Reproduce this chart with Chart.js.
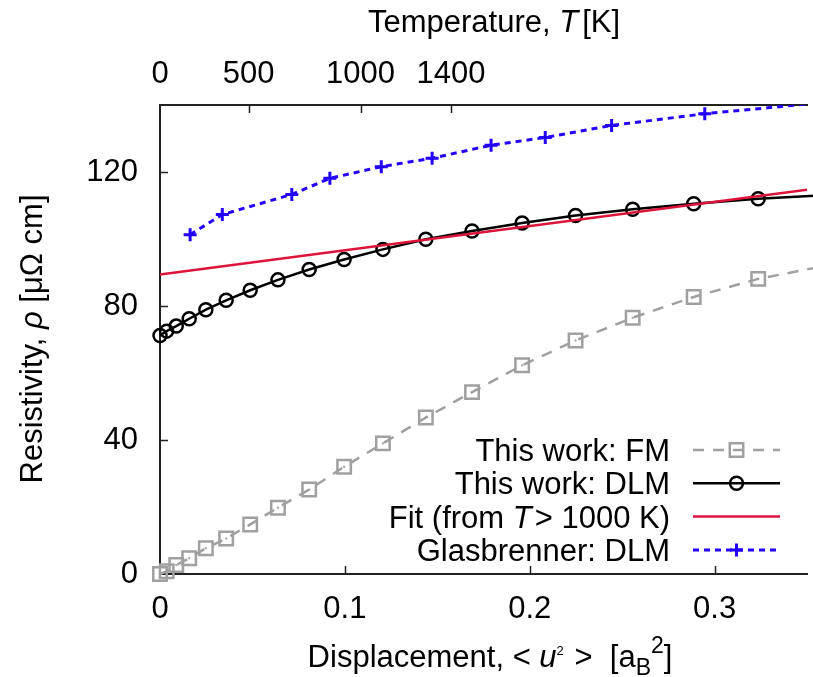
<!DOCTYPE html>
<html>
<head>
<meta charset="utf-8">
<script src="https://cdn.jsdelivr.net/npm/chart.js@4/dist/chart.umd.min.js"></script>
<style>
  html, body { margin: 0; padding: 0; background: #fff; overflow: hidden; }
  #marco { width: 813px; height: 677px; overflow: hidden; }
</style>
</head>
<body>
<div id="marco"><canvas id="grafico" width="819" height="677"></canvas></div>
<script>
// Datos (el último punto de cada serie queda fuera del eje)
const desplazamiento = [0, 0.0036, 0.0088, 0.0158, 0.0248, 0.0358, 0.0488, 0.0638, 0.0807, 0.0996, 0.1206, 0.1438, 0.1688, 0.1959, 0.2248, 0.2557, 0.2887, 0.3236, 0.361];
const rhoFM = [0, 0.8, 2.7, 4.7, 7.7, 10.6, 14.8, 19.8, 25.2, 32.0, 39.0, 46.7, 54.3, 62.3, 69.7, 76.5, 82.7, 88.1, 92.1];
const rhoDLM = [71.2, 72.5, 74.0, 76.2, 78.9, 81.7, 84.7, 87.8, 90.9, 93.9, 96.9, 99.9, 102.4, 104.8, 107.0, 108.9, 110.5, 112.0, 113.1];

const desplazamientoGlas = [0.0163, 0.0337, 0.0713, 0.0919, 0.1197, 0.1472, 0.1791, 0.2084, 0.2443, 0.2947, 0.36];
const rhoGlas = [101.3, 107.3, 113.3, 118.1, 121.6, 124.1, 128.0, 130.3, 133.9, 137.4, 140.8];

const desplazamientoAjuste = [0, 0.35];
const rhoAjuste = [89.4, 114.7];

// Ejes
const ticksX = [0, 0.1, 0.2, 0.3];
const ticksY = [0, 40, 80, 120];
const temperaturas = [0, 500, 1000, 1400];
const posTemperatura = [0, 0.048, 0.1085, 0.1574];

const FUENTE = '"Liberation Sans", Arial, sans-serif';
const TAM = 31;
const COLOR_MARCO = '#222';

function puntos(xs, ys) {
  return xs.map((x, i) => ({ x: x, y: ys[i] }));
}

// Texto con cursiva, superíndices y subíndices
function textoRico(ctx, partes, x, y, alinear) {
  let ancho = 0;
  const medidas = partes.map(p => {
    ctx.font = (p.i ? 'italic ' : '') + (p.tam || TAM) + 'px ' + FUENTE;
    const w = ctx.measureText(p.t).width + (p.extra || 0);
    ancho += w;
    return w;
  });
  let cx = x;
  if (alinear === 'center') cx = x - ancho / 2;
  if (alinear === 'right') cx = x - ancho;
  ctx.textAlign = 'left';
  ctx.textBaseline = 'alphabetic';
  ctx.fillStyle = '#000';
  partes.forEach((p, k) => {
    ctx.font = (p.i ? 'italic ' : '') + (p.tam || TAM) + 'px ' + FUENTE;
    ctx.fillText(p.t, cx, y + (p.dy || 0));
    cx += medidas[k];
  });
}

const leyendaTextos = [
  [{ t: 'This work: FM' }],
  [{ t: 'This work: DLM' }],
  [{ t: 'Fit (from ' }, { t: 'T', i: true, extra: 3 }, { t: '> 1000 K)' }],
  [{ t: 'Glasbrenner: DLM' }]
];

// Punto central de los cuadrados (como en gnuplot)
const puntoCentral = {
  id: 'puntoCentral',
  afterDatasetsDraw(chart) {
    const ctx = chart.ctx;
    const meta = chart.getDatasetMeta(0);
    ctx.save();
    ctx.fillStyle = '#a0a0a0';
    meta.data.forEach(p => {
      if (p.x > chart.chartArea.right) return;
      ctx.fillRect(p.x - 1, p.y - 1, 2, 2);
    });
    ctx.restore();
  }
};

const extras = {
  id: 'extras',
  afterDraw(chart) {
    const ctx = chart.ctx;
    const area = chart.chartArea;
    const sx = chart.scales.x;
    const sy = chart.scales.y;

    // marcas hacia dentro
    ctx.save();
    ctx.strokeStyle = COLOR_MARCO;
    ctx.lineWidth = 1.5;
    ctx.beginPath();
    ticksY.forEach(v => {
      if (v === 0) return;
      const py = Math.round(sy.getPixelForValue(v)) + 0.5;
      ctx.moveTo(area.left, py); ctx.lineTo(area.left + 8, py);
    });
    ticksX.forEach(v => {
      if (v === 0) return;
      const px = Math.round(sx.getPixelForValue(v)) + 0.5;
      ctx.moveTo(px, area.bottom); ctx.lineTo(px, area.bottom - 8);
    });
    posTemperatura.forEach(v => {
      if (v === 0) return;
      const px = Math.round(sx.getPixelForValue(v)) + 0.5;
      ctx.moveTo(px, area.top); ctx.lineTo(px, area.top + 8);
    });
    ctx.stroke();
    ctx.restore();

    // títulos de ejes
    ctx.save();
    textoRico(ctx, [{ t: 'Temperature, ' }, { t: 'T', i: true, extra: 4 }, { t: '[K]' }], 494, 32, 'center');
    textoRico(ctx, [
      { t: 'Displacement, < ' },
      { t: 'u', i: true },
      { t: '2', tam: 13, dy: -12, extra: 2 },
      { t: ' >  [a' },
      { t: 'B', tam: 23, dy: 8 },
      { t: '2', tam: 23, dy: -14 },
      { t: ']' }
    ], 490, 667, 'center');
    ctx.translate(42, 339);
    ctx.rotate(-Math.PI / 2);
    textoRico(ctx, [{ t: 'Resistivity, ' }, { t: 'ρ', i: true }, { t: ' [μΩ cm]' }], 0, 0, 'center');
    ctx.restore();

    // leyenda al estilo gnuplot
    chart.data.datasets.forEach((ds, i) => {
      const yc = 450 + i * 33.3;
      ctx.save();
      textoRico(ctx, leyendaTextos[i], 670, yc + 11, 'right');
      ctx.strokeStyle = ds.borderColor;
      ctx.lineWidth = ds.borderWidth;
      ctx.setLineDash(ds.borderDash || []);
      ctx.beginPath();
      ctx.moveTo(693, yc); ctx.lineTo(780, yc);
      ctx.stroke();
      ctx.setLineDash([]);
      if (ds.pointRadius > 0) {
        ctx.fillStyle = 'rgba(0,0,0,0)';
        ctx.lineWidth = ds.pointBorderWidth;
        Chart.helpers.drawPoint(ctx, {
          pointStyle: ds.pointStyle, rotation: 0,
          radius: ds.pointRadius, borderWidth: ds.pointBorderWidth
        }, 736.5, yc);
        if (i === 0) {
          ctx.fillStyle = ds.borderColor;
          ctx.fillRect(735.5, yc - 1, 2, 2);
        }
      }
      ctx.restore();
    });
  }
};

const ctx = document.getElementById('grafico').getContext('2d');

new Chart(ctx, {
  type: 'scatter',
  data: {
    datasets: [
      {
        label: 'This work: FM',
        data: puntos(desplazamiento, rhoFM),
        showLine: true,
        borderColor: '#a0a0a0',
        borderWidth: 2.5,
        borderDash: [11, 9],
        pointStyle: 'rect',
        pointRadius: 9.5,
        pointBorderWidth: 2.5,
        pointBorderColor: '#a0a0a0',
        pointBackgroundColor: 'rgba(0,0,0,0)',
        clip: false,
        order: 4
      },
      {
        label: 'This work: DLM',
        data: puntos(desplazamiento, rhoDLM),
        showLine: true,
        borderColor: '#000000',
        borderWidth: 2.5,
        pointStyle: 'circle',
        pointRadius: 6.5,
        pointBorderWidth: 2.5,
        pointBorderColor: '#000000',
        pointBackgroundColor: 'rgba(0,0,0,0)',
        clip: false,
        order: 3
      },
      {
        label: 'Fit (from T > 1000 K)',
        data: puntos(desplazamientoAjuste, rhoAjuste),
        showLine: true,
        borderColor: '#dc143c',
        borderWidth: 2.5,
        pointRadius: 0,
        order: 2
      },
      {
        label: 'Glasbrenner: DLM',
        data: puntos(desplazamientoGlas, rhoGlas),
        showLine: true,
        borderColor: '#2200ff',
        borderWidth: 3,
        borderDash: [6, 5],
        pointStyle: 'cross',
        pointRadius: 6.5,
        pointBorderWidth: 3,
        pointBorderColor: '#2200ff',
        order: 1
      }
    ]
  },
  options: {
    responsive: false,
    animation: false,
    devicePixelRatio: 1,
    events: [],
    layout: { padding: 0 },
    plugins: {
      legend: { display: false },
      tooltip: { enabled: false }
    },
    scales: {
      x: {
        type: 'linear',
        position: 'bottom',
        min: 0,
        max: 0.35,
        afterBuildTicks: s => { s.ticks = ticksX.map(v => ({ value: v })); },
        afterFit: s => { s.height = 677 - 574; },
        grid: { display: false },
        border: { display: true, color: COLOR_MARCO, width: 2 },
        ticks: {
          autoSkip: false, maxRotation: 0, padding: 9,
          color: '#000', font: { family: FUENTE, size: TAM },
          callback: v => String(v)
        }
      },
      x2: {
        type: 'linear',
        position: 'top',
        min: 0,
        max: 0.35,
        afterBuildTicks: s => { s.ticks = posTemperatura.map(v => ({ value: v })); },
        afterFit: s => { s.height = 105; },
        grid: { display: false },
        border: { display: true, color: COLOR_MARCO, width: 2 },
        ticks: {
          autoSkip: false, maxRotation: 0, padding: 4,
          color: '#000', font: { family: FUENTE, size: TAM },
          callback: (v, i) => String(temperaturas[i])
        }
      },
      y: {
        type: 'linear',
        position: 'left',
        min: 0,
        max: 140,
        afterBuildTicks: s => { s.ticks = ticksY.map(v => ({ value: v })); },
        afterFit: s => { s.width = 160; },
        grid: { display: false },
        border: { display: true, color: COLOR_MARCO, width: 2 },
        ticks: {
          autoSkip: false, padding: 14,
          color: '#000', font: { family: FUENTE, size: TAM },
          callback: v => String(v)
        }
      }
    }
  },
  plugins: [puntoCentral, extras]
});
</script>
</body>
</html>
